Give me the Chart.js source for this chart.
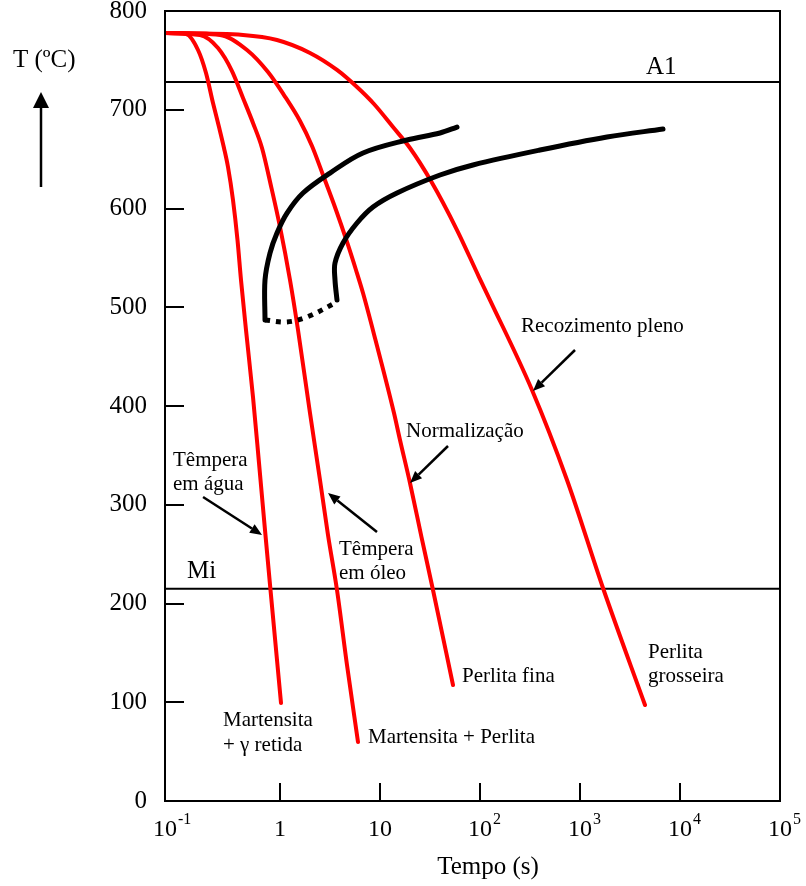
<!DOCTYPE html>
<html><head><meta charset="utf-8">
<script src="https://cdn.jsdelivr.net/npm/chart.js@4/dist/chart.umd.min.js"></script>
<style>html,body{margin:0;padding:0;background:#fff;}#wrap{width:806px;height:886px;}</style>
</head><body><div id="wrap"><canvas id="c" width="806" height="886"></canvas></div>
<script>
// ---- axis definitions ----
const xMin = Math.pow(10, -1.15);   // left edge, labelled 10^-1 in the figure
const xMax = 100000;
const xTickMarks = [1, 10, 100, 1000, 10000];
const xLabelValues = [xMin, 1, 10, 100, 1000, 10000, 100000];
const xLabelBase = ["10", "1", "10", "10", "10", "10", "10"];
const xLabelExp = ["-1", "", "", "2", "3", "4", "5"];
const yLabelValues = [0, 100, 200, 300, 400, 500, 600, 700, 800];
const yTickMarks = [100, 200, 300, 400, 500, 600, 700];

// ---- reference lines ----
const A1 = 728;
const Mi = 215;

// ---- cooling curves (time s, temperature °C) ----
const aguaTime = [0.0708, 0.1148, 0.1514, 0.1820, 0.2138, 0.2455, 0.2754, 0.3020, 0.3388, 0.3758, 0.4074, 0.4571, 0.5370, 0.6166, 0.7079, 0.8035, 1.0233];
const aguaTemp = [777.7, 776.7, 760.5, 737.2, 706.8, 682.5, 661.3, 642.0, 608.6, 568.1, 527.6, 477.0, 409.1, 342.3, 274.4, 213.7, 99.2];
const oleoTime = [0.0708, 0.1585, 0.2399, 0.3311, 0.4266, 0.5370, 0.6607, 0.8128, 1.0, 1.259, 1.514, 1.995, 2.512, 3.020, 3.715, 4.677, 6.026];
const oleoTemp = [777.7, 775.7, 762.5, 739.2, 711.9, 686.6, 661.3, 622.8, 581.3, 527.6, 477.0, 392.9, 325.1, 269.4, 213.7, 137.7, 59.7];
const normTime = [0.0708, 0.2512, 0.4677, 0.7586, 1.096, 1.585, 2.089, 2.692, 3.631, 4.677, 5.754, 6.761, 9.016, 13.80, 15.85, 19.95, 26.00, 33.88, 53.70];
const normTemp = [777.7, 775.7, 760.5, 738.2, 714.9, 688.6, 663.3, 633.9, 598.5, 566.1, 537.7, 514.4, 466.8, 392.9, 365.6, 322.0, 267.3, 213.7, 117.5];
const recozTime = [0.0708, 0.427, 0.933, 1.995, 3.715, 5.888, 8.710, 13.49, 19.95, 32.36, 58.88, 97.72, 125.9, 331.1, 741.3, 1698, 4467];
const recozTemp = [777.7, 775.7, 770.6, 757.5, 740.3, 723.0, 705.8, 682.5, 661.3, 627.8, 578.2, 530.6, 507.3, 416.2, 325.1, 215.7, 97.2];

// ---- transformation curves ----
const inicioTime = [58.88, 39.81, 18.62, 6.761, 3.162, 1.698, 1.175, 0.933, 0.794, 0.708, 0.708];
const inicioTemp = [682.5, 676.5, 669.4, 656.2, 635.9, 615.7, 595.4, 575.2, 554.9, 527.6, 487.1];
const bainhaTime = [0.708, 1.175, 1.862, 3.715];
const bainhaTemp = [487.1, 485.1, 490.1, 505.3];
const fimTime = [6761, 1862, 398.1, 85.11, 39.81, 14.79, 8.511, 5.888, 4.266, 3.548, 3.548, 3.715];
const fimTemp = [680.5, 672.4, 659.2, 644.1, 633.9, 615.7, 601.5, 585.3, 565.1, 544.8, 527.6, 507.3];

// ---- annotation arrows (data coords: tail -> head) ----
const arrows = [
  [[0.170, 307.8], [0.661, 269.4]],
  [[9.333, 272.4], [3.020, 311.9]],
  [[47.86, 359.5], [19.95, 322]],
  [[891.3, 456.7], [338.8, 415.2]]
];

const pts = (xs, ys) => xs.map((x, i) => ({x: x, y: ys[i]}));
const RED = '#ff0000';
const SERIF = '"Liberation Serif", "Times New Roman", serif';

function curve(data, color, width, opts) {
  opts = opts || {};
  return {data: data, borderColor: color, borderWidth: width, pointRadius: 0,
          tension: 0.35, cubicInterpolationMode: opts.mono ? 'monotone' : 'default',
          fill: false, borderDash: opts.dash || [], borderCapStyle: opts.dash ? 'butt' : 'round',
          borderJoinStyle: 'round'};
}

const decor = {
  id: 'decor',
  afterDraw(chart) {
    const ctx = chart.ctx, a = chart.chartArea;
    const xs = chart.scales.x, ys = chart.scales.y;
    ctx.save();
    ctx.strokeStyle = '#000'; ctx.fillStyle = '#000';
    // frame
    ctx.lineWidth = 2;
    ctx.strokeRect(a.left, a.top, a.right - a.left, a.bottom - a.top);
    // y tick marks (inside)
    yTickMarks.forEach(v => {
      const y = Math.round(ys.getPixelForValue(v));
      ctx.beginPath(); ctx.moveTo(a.left, y); ctx.lineTo(a.left + 19, y); ctx.stroke();
    });
    // x tick marks (inside)
    xTickMarks.forEach(v => {
      const x = Math.round(xs.getPixelForValue(v));
      ctx.beginPath(); ctx.moveTo(x, a.bottom); ctx.lineTo(x, a.bottom - 18); ctx.stroke();
    });
    // y labels
    ctx.font = '25px ' + SERIF;
    ctx.textAlign = 'right'; ctx.textBaseline = 'middle';
    yLabelValues.forEach(v => ctx.fillText(String(v), 147, ys.getPixelForValue(v)));
    // x labels
    xLabelValues.forEach((v, i) => {
      const x = xs.getPixelForValue(v);
      ctx.font = '24px ' + SERIF; ctx.textAlign = 'center'; ctx.textBaseline = 'middle';
      ctx.fillText(xLabelBase[i], x, 830);
      if (xLabelExp[i]) {
        const w = ctx.measureText(xLabelBase[i]).width;
        ctx.font = '16px ' + SERIF; ctx.textAlign = 'left';
        ctx.fillText(xLabelExp[i], x + w / 2 + 1, 820);
      }
    });
    // axis titles
    ctx.font = '25px ' + SERIF; ctx.textAlign = 'center'; ctx.textBaseline = 'alphabetic';
    ctx.fillText('Tempo (s)', 488, 874);
    ctx.textAlign = 'left';
    ctx.fillText('T (\u00BAC)', 13, 67);
    // vertical arrow
    ctx.lineWidth = 2.5;
    ctx.beginPath(); ctx.moveTo(41, 187); ctx.lineTo(41, 104); ctx.stroke();
    ctx.beginPath(); ctx.moveTo(41, 92); ctx.lineTo(33, 108); ctx.lineTo(49, 108); ctx.closePath(); ctx.fill();
    // A1 / Mi labels
    ctx.fillText('A1', 646, 74);
    ctx.fillText('Mi', 187, 578);
    // annotations
    ctx.font = '21px ' + SERIF;
    const txt = [
      ['Recozimento pleno', 521, 332],
      ['Normaliza\u00E7\u00E3o', 406, 437],
      ['T\u00EAmpera', 173, 466], ['em \u00E1gua', 173, 490],
      ['T\u00EAmpera', 339, 555], ['em \u00F3leo', 339, 579],
      ['Martensita', 223, 726], ['+ \u03B3 retida', 223, 751],
      ['Martensita + Perlita', 368, 743],
      ['Perlita fina', 462, 682],
      ['Perlita', 648, 658], ['grosseira', 648, 682]
    ];
    txt.forEach(t => ctx.fillText(t[0], t[1], t[2]));
    // annotation arrows
    arrows.forEach(ar => {
      const x0 = xs.getPixelForValue(ar[0][0]), y0 = ys.getPixelForValue(ar[0][1]);
      const x1 = xs.getPixelForValue(ar[1][0]), y1 = ys.getPixelForValue(ar[1][1]);
      const ang = Math.atan2(y1 - y0, x1 - x0);
      const L = 12, W = 5;
      const bx = x1 - L * Math.cos(ang), by = y1 - L * Math.sin(ang);
      ctx.lineWidth = 2.5;
      ctx.beginPath(); ctx.moveTo(x0, y0); ctx.lineTo(bx, by); ctx.stroke();
      ctx.beginPath(); ctx.moveTo(x1, y1);
      ctx.lineTo(bx + W * Math.sin(ang), by - W * Math.cos(ang));
      ctx.lineTo(bx - W * Math.sin(ang), by + W * Math.cos(ang));
      ctx.closePath(); ctx.fill();
    });
    ctx.restore();
  }
};

new Chart(document.getElementById('c'), {
  type: 'line',
  data: {
    datasets: [
      curve(pts(inicioTime, inicioTemp), '#000', 5),
      curve(pts(fimTime, fimTemp), '#000', 5),
      curve(pts(bainhaTime, bainhaTemp), '#000', 5, {dash: [5, 6]}),
      curve(pts(aguaTime, aguaTemp), RED, 4, {mono: true}),
      curve(pts(oleoTime, oleoTemp), RED, 4, {mono: true}),
      curve(pts(normTime, normTemp), RED, 4, {mono: true}),
      curve(pts(recozTime, recozTemp), RED, 4, {mono: true}),
      curve([{x: xMin, y: A1}, {x: xMax, y: A1}], '#000', 2),
      curve([{x: xMin, y: Mi}, {x: xMax, y: Mi}], '#000', 2)
    ]
  },
  options: {
    responsive: false,
    animation: false,
    devicePixelRatio: 1,
    layout: {padding: {left: 0, right: 26, top: 11, bottom: 0}},
    plugins: {legend: {display: false}, tooltip: {enabled: false}, title: {display: false}},
    scales: {
      x: {type: 'logarithmic', min: xMin, max: xMax,
          ticks: {display: false}, grid: {display: false}, border: {display: false},
          afterFit: s => { s.height = 85; }},
      y: {type: 'linear', min: 0, max: 800,
          ticks: {display: false}, grid: {display: false}, border: {display: false},
          afterFit: s => { s.width = 165; }}
    }
  },
  plugins: [decor]
});
</script>
</body></html>
